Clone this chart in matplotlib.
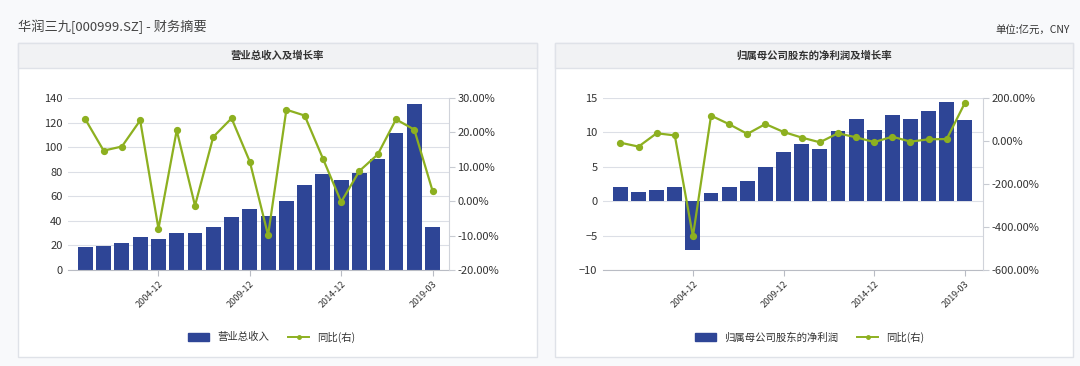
import matplotlib
matplotlib.use("Agg")
import matplotlib.pyplot as plt
from matplotlib.patches import Rectangle
from matplotlib.lines import Line2D
from matplotlib.ticker import FuncFormatter
import numpy as np

plt.rcParams['font.family'] = ['Noto Sans CJK SC', 'DejaVu Sans']

# 报告期
periods = ['2000-12', '2001-12', '2002-12', '2003-12', '2004-12', '2005-12', '2006-12',
           '2007-12', '2008-12', '2009-12', '2010-12', '2011-12', '2012-12', '2013-12',
           '2014-12', '2015-12', '2016-12', '2017-12', '2018-12', '2019-03']
shown_ticks = ['2004-12', '2009-12', '2014-12', '2019-03']

# 营业总收入 (亿元) 及同比 (%)
revenue = [18.4, 19.5, 22.2, 26.9, 25.2, 29.8, 29.8, 35.0, 43.4, 49.4,
           44.2, 56.2, 69.5, 78.4, 73.5, 79.2, 90.6, 111.5, 134.8, 35.0]
revenue_yoy = [23.8, 14.7, 15.9, 23.5, -8.0, 20.6, -1.3, 18.7, 24.1, 11.5,
               -9.9, 26.6, 24.9, 12.4, -0.2, 8.8, 13.6, 23.8, 20.8, 3.0]

# 归属母公司股东的净利润 (亿元) 及同比 (%)
profit = [2.1, 1.3, 1.7, 2.1, -7.1, 1.2, 2.1, 2.9, 5.0, 7.2,
          8.3, 7.6, 10.2, 11.9, 10.4, 12.6, 12.0, 13.1, 14.4, 11.8]
profit_yoy = [-8, -26, 36, 26, -443, 118, 78, 33, 79, 42,
              16, -6, 36, 17, -5, 20, -3, 8, 9, 177]

BAR = '#2e4596'
LINE = '#8db020'
GRID = '#dcdfe6'
TXT = '#333333'

W, H = 1080, 366
fig = plt.figure(figsize=(W / 100, H / 100), dpi=100)
fig.patch.set_facecolor('#f8f9fb')


def fx(px):
    return px / W


def fy(py):
    return 1 - py / H


def panel(x0, x1, y0, y1, header):
    fig.patches.append(Rectangle((fx(x0), fy(y1)), fx(x1 - x0), (y1 - y0) / H,
                                 transform=fig.transFigure, facecolor='white',
                                 edgecolor='#dfe2e8', lw=1, zorder=-2))
    fig.patches.append(Rectangle((fx(x0), fy(68)), fx(x1 - x0), (68 - y0) / H,
                                 transform=fig.transFigure, facecolor='#f1f2f4',
                                 edgecolor='#dfe2e8', lw=1, zorder=-1))
    fig.text(fx((x0 + x1) / 2), fy(56), header, ha='center', va='center',
             fontsize=7.5, fontweight='bold', color=TXT)


def chart(rect, bars, yoy, ylim, yticks, y2lim, y2ticks, xlim, bar_label, legend_x):
    ax = fig.add_axes(rect)
    x = np.arange(len(periods))
    ax.bar(x, bars, width=0.82, color=BAR, zorder=2)
    ax.set_xlim(*xlim)
    ax.set_ylim(*ylim)
    ax.set_yticks(yticks)
    ax.grid(axis='y', color=GRID, lw=0.8, zorder=0)
    ax.set_axisbelow(True)
    ax.set_facecolor('none')
    for s in ['top', 'left', 'right']:
        ax.spines[s].set_visible(False)
    ax.spines['bottom'].set_color('#b9bcc4')
    idx = [periods.index(p) for p in shown_ticks]
    ax.set_xticks(idx)
    ax.set_xticklabels(shown_ticks, rotation=45, ha='right', rotation_mode='anchor',
                       fontsize=6.5, color=TXT)
    ax.tick_params(axis='x', length=4, color='#b9bcc4', pad=3)
    ax.tick_params(axis='y', length=0, labelsize=8, colors=TXT, pad=4)

    ax2 = ax.twinx()
    ax2.plot(x, yoy, color=LINE, lw=1.6, marker='o', ms=4.2, zorder=3)
    ax2.set_ylim(*y2lim)
    ax2.set_yticks(y2ticks)
    ax2.yaxis.set_major_formatter(FuncFormatter(lambda v, p: f'{v:.2f}%'))
    ax2.tick_params(axis='y', length=4, labelsize=8, colors=TXT, color='#c8cbd2', pad=2)
    for s in ['top', 'left', 'bottom']:
        ax2.spines[s].set_visible(False)
    ax2.spines['right'].set_color('#d0d3da')

    handles = [Rectangle((0, 0), 1, 1, color=BAR),
               Line2D([0], [0], color=LINE, lw=1.4, marker='o', ms=2.5)]
    fig.legend(handles, [bar_label, '同比(右)'], loc='center',
               bbox_to_anchor=(fx(legend_x), fy(337)), ncol=2, frameon=False,
               fontsize=7.5, handlelength=2.0, handleheight=0.9, columnspacing=1.8,
               labelcolor=TXT)
    return ax


fig.text(fx(18), fy(27), '华润三九[000999.SZ] - 财务摘要', ha='left', va='center',
         fontsize=9.5, color='#444444')
fig.text(fx(1070), fy(31), '单位:亿元，CNY', ha='right', va='center',
         fontsize=7.5, color=TXT)

panel(18, 537, 43, 357, '营业总收入及增长率')
panel(555, 1073, 43, 357, '归属母公司股东的净利润及增长率')

chart([fx(68), fy(270), fx(449 - 68), (270 - 98) / H], revenue, revenue_yoy,
      (0, 140), range(0, 141, 20), (-20, 30), range(-20, 31, 10),
      (-0.95, 19.9), '营业总收入', 272)
chart([fx(603), fy(270), fx(983 - 603), (270 - 98) / H], profit, profit_yoy,
      (-10, 15), range(-10, 16, 5), (-600, 200), range(-600, 201, 200),
      (-0.96, 20.0), '归属母公司股东的净利润', 810)

fig.savefig('out.png', dpi=100, facecolor=fig.get_facecolor())
